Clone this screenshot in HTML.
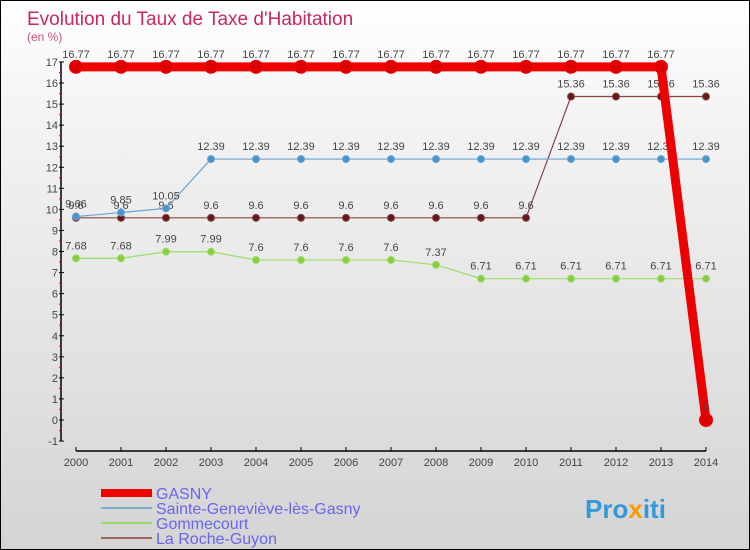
<!DOCTYPE html>
<html><head><meta charset="utf-8"><style>
body{margin:0}
#c{width:748px;height:548px;border:1px solid #000;background:linear-gradient(#ffffff,#f4f4f4 20%,#d4d4d4);position:relative;overflow:hidden;font-family:"Liberation Sans",sans-serif}
</style></head><body>
<div id="c">
<svg id="s" width="748" height="548" xmlns="http://www.w3.org/2000/svg">
<text x="26" y="24" font-size="19" fill="#c8285a">Evolution du Taux de Taxe d'Habitation</text>
<text x="26" y="40" font-size="12" fill="#c8507a">(en %)</text>
<g id="axes"></g><g id="series"></g>
<g>
<rect x="100" y="488" width="51" height="8" fill="#e00"/>
<text x="155" y="498" font-size="16" fill="#6666ee">GASNY</text>
<rect x="100" y="506" width="51" height="2" fill="#7aaecc"/>
<text x="155" y="513" font-size="16" fill="#6666ee">Sainte-Geneviève-lès-Gasny</text>
<rect x="100" y="521" width="51" height="2" fill="#99dd66"/>
<text x="155" y="528" font-size="16" fill="#6666ee">Gommecourt</text>
<rect x="100" y="536" width="51" height="2" fill="#996666"/>
<text x="155" y="543" font-size="16" fill="#6666ee">La Roche-Guyon</text>
</g>
<text x="584" y="517" font-size="26" font-weight="bold" fill="#3399dd">Pro<tspan fill="#ff9900">x</tspan>iti</text>
</svg></div>
<script>
const years=[2000,2001,2002,2003,2004,2005,2006,2007,2008,2009,2010,2011,2012,2013,2014];
const gasny=[16.77,16.77,16.77,16.77,16.77,16.77,16.77,16.77,16.77,16.77,16.77,16.77,16.77,16.77,0];
const sainte=[9.66,9.85,10.05,12.39,12.39,12.39,12.39,12.39,12.39,12.39,12.39,12.39,12.39,12.39,12.39];
const gomme=[7.68,7.68,7.99,7.99,7.6,7.6,7.6,7.6,7.37,6.71,6.71,6.71,6.71,6.71,6.71];
const roche=[9.6,9.6,9.6,9.6,9.6,9.6,9.6,9.6,9.6,9.6,9.6,15.36,15.36,15.36,15.36];
const yTicks=[-1,0,1,2,3,4,5,6,7,8,9,10,11,12,13,14,15,16,17];
const NS="http://www.w3.org/2000/svg";
const X=y=>75+(y-2000)*45;
const Y=v=>419-v*21.06;
const ax=document.getElementById('axes'),sr=document.getElementById('series');
function mk(p,t,a){const e=document.createElementNS(NS,t);for(const k in a)e.setAttribute(k,a[k]);p.appendChild(e);return e;}
let yl=mk(ax,'line',{x1:60,y1:Y(17),x2:60,y2:Y(-1),stroke:'#000','stroke-width':1.5});


let xl=mk(ax,'line',{x1:75,y1:450,x2:705,y2:450,stroke:'#000','stroke-width':1.5});


yTicks.forEach(v=>{
 mk(ax,'line',{x1:58,y1:Y(v),x2:63,y2:Y(v),stroke:'#000'});
 if(v<17){mk(ax,'line',{x1:58,y1:Y(v+0.5),x2:60,y2:Y(v+0.5),stroke:'#e00'});}
 const t=mk(ax,'text',{x:57,y:Y(v)+4,'text-anchor':'end','font-size':11,fill:'#444'});
 t.textContent=v;
 
 
});
years.forEach(y=>{
 mk(ax,'line',{x1:X(y),y1:446,x2:X(y),y2:450,stroke:'#000'});
 const t=mk(ax,'text',{x:X(y),y:465,'text-anchor':'middle','font-size':11,fill:'#444'});
 t.textContent=y;
 
 
});
function series(vals,color,w,r,fill,name){
 const g=mk(sr,'g',{});
 
 
 const pl=mk(g,'polyline',{points:vals.map((v,i)=>X(years[i])+','+Y(v)).join(' '),fill:'none',stroke:color,'stroke-width':w,'stroke-linejoin':'round'});
 
 vals.forEach((v,i)=>{
  const c=mk(g,'circle',{cx:X(years[i]),cy:Y(v),r:r,fill:fill,stroke:color,'stroke-width':1});
  
  
  const t=mk(g,'text',{x:X(years[i]),y:Y(v)-9,'text-anchor':'middle','font-size':11,fill:'#444'});
  t.textContent=v;
  
  
 });
}
series(gomme,'#99dd66',1.2,3.5,'#88cc44','gommecourt');
series(roche,'#884444',1.2,3.5,'#661818','la-roche-guyon');
series(sainte,'#6aa4d4',1.2,3.5,'#4a94cc','sainte-genevieve');
series(gasny,'#ee0000',9,6.5,'#dd0000','gasny');
</script>
</body></html>
